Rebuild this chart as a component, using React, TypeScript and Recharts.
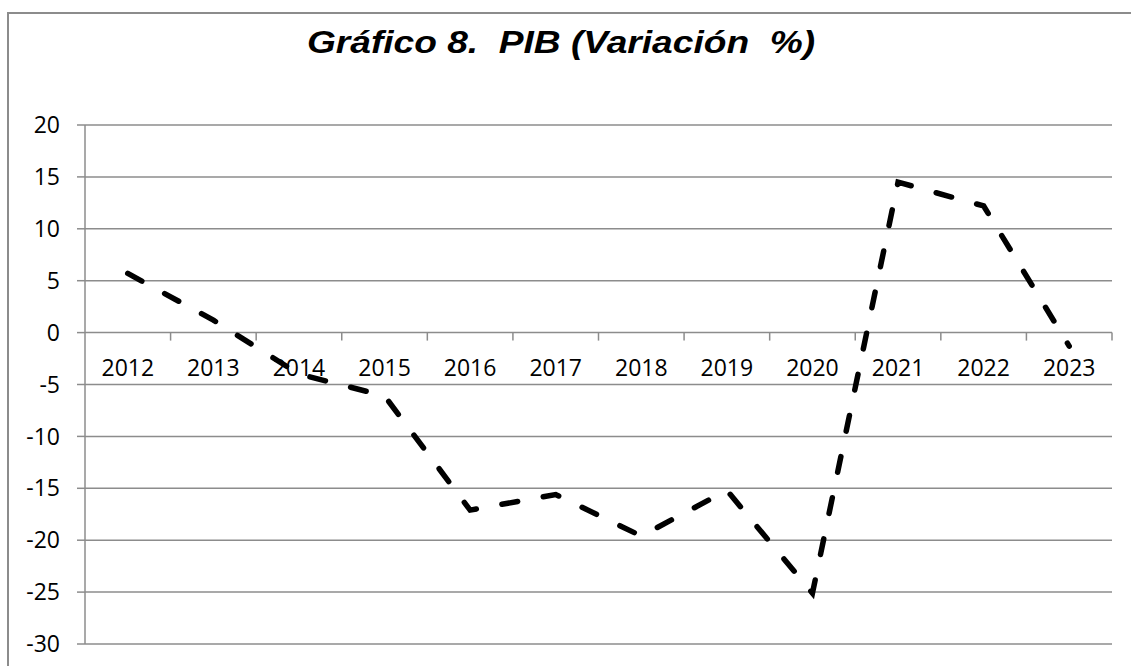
import React from "react";
import { LineChart, Line, XAxis, YAxis, CartesianGrid } from "recharts";

const years = ["2012", "2013", "2014", "2015", "2016", "2017", "2018", "2019", "2020", "2021", "2022", "2023"];
const pibVariation = [5.7, 1.2, -4.0, -6.1, -17.1, -15.6, -19.6, -15.2, -25.1, 14.5, 12.2, -1.3];
const yTicks = [-30, -25, -20, -15, -10, -5, 0, 5, 10, 15, 20];
const titleText = "Gráfico 8.  PIB (Variación  %)";

const data = years.map((y, i) => ({ year: y, value: pibVariation[i] }));

const W = 1120;
const H = 660;
const PLOT_LEFT = 85;
const PLOT_RIGHT = 1112;
const PLOT_TOP = 125;
const PLOT_BOTTOM = 644;
const CHART_LEFT = 9;
const Y_MIN = -30;
const Y_MAX = 20;
const PLOT_W = PLOT_RIGHT - PLOT_LEFT;
const PLOT_H = PLOT_BOTTOM - PLOT_TOP;
const BW = PLOT_W / years.length;
const ZERO_Y = PLOT_TOP + (PLOT_H * (Y_MAX - 0)) / (Y_MAX - Y_MIN);
const GRAY = "#8c8c8c";
const FONT = "'Open Sans', sans-serif";

const XTick = (props: any) => {
  const { x } = props;
  return (
    <g>
      <line x1={x + BW / 2} x2={x + BW / 2} y1={ZERO_Y} y2={ZERO_Y + 8} stroke={GRAY} strokeWidth={1.5} />
      <text x={x} y={ZERO_Y + 43} textAnchor="middle" fontFamily={FONT} fontSize={23} fill="#000">
        {props.payload.value}
      </text>
    </g>
  );
};

export default function App() {
  return (
    <div style={{ position: "fixed", left: 0, top: 0, width: 1131, height: 666, overflow: "hidden", background: "#fff" }}>
      <LineChart
        width={W}
        height={H}
        data={data}
        style={{ position: "absolute", left: 0, top: 0 }}
        margin={{ top: PLOT_TOP, right: W - PLOT_RIGHT, left: CHART_LEFT, bottom: 0 }}
      >
        <CartesianGrid vertical={false} stroke={GRAY} strokeWidth={1.5} />
        <XAxis
          dataKey="year"
          height={H - PLOT_BOTTOM}
          axisLine={false}
          tickLine={false}
          padding={{ left: BW / 2, right: BW / 2 }}
          tick={<XTick />}
          interval={0}
        />
        <YAxis
          width={PLOT_LEFT - CHART_LEFT}
          domain={[Y_MIN, Y_MAX]}
          ticks={yTicks}
          interval={0}
          allowDataOverflow
          axisLine={{ stroke: GRAY, strokeWidth: 1.5 }}
          tickLine={{ stroke: GRAY, strokeWidth: 1.5 }}
          tickSize={8}
          tickMargin={17}
          tick={{ fontFamily: FONT, fontSize: 23, fill: "#000" }}
        />
        <Line
          dataKey="value"
          type="linear"
          stroke="#000"
          strokeWidth={5.5}
          strokeDasharray="16 26"
          strokeLinecap="round"
          dot={false}
          activeDot={false}
          isAnimationActive={false}
        />
      </LineChart>
      <div
        style={{
          position: "absolute",
          left: 7,
          top: 12,
          width: 1200,
          height: 700,
          borderTop: `2px solid ${GRAY}`,
          borderLeft: `2px solid ${GRAY}`,
          pointerEvents: "none",
        }}
      />
      <div
        style={{
          position: "absolute",
          left: 561 - 400,
          width: 800,
          top: 24,
          textAlign: "center",
          fontFamily: "'Liberation Sans', Arial, sans-serif",
          fontWeight: "bold",
          fontStyle: "italic",
          fontSize: 32,
          whiteSpace: "pre",
          color: "#000",
          transform: "scaleX(1.16)",
          transformOrigin: "center",
        }}
      >
        {titleText}
      </div>
    </div>
  );
}
